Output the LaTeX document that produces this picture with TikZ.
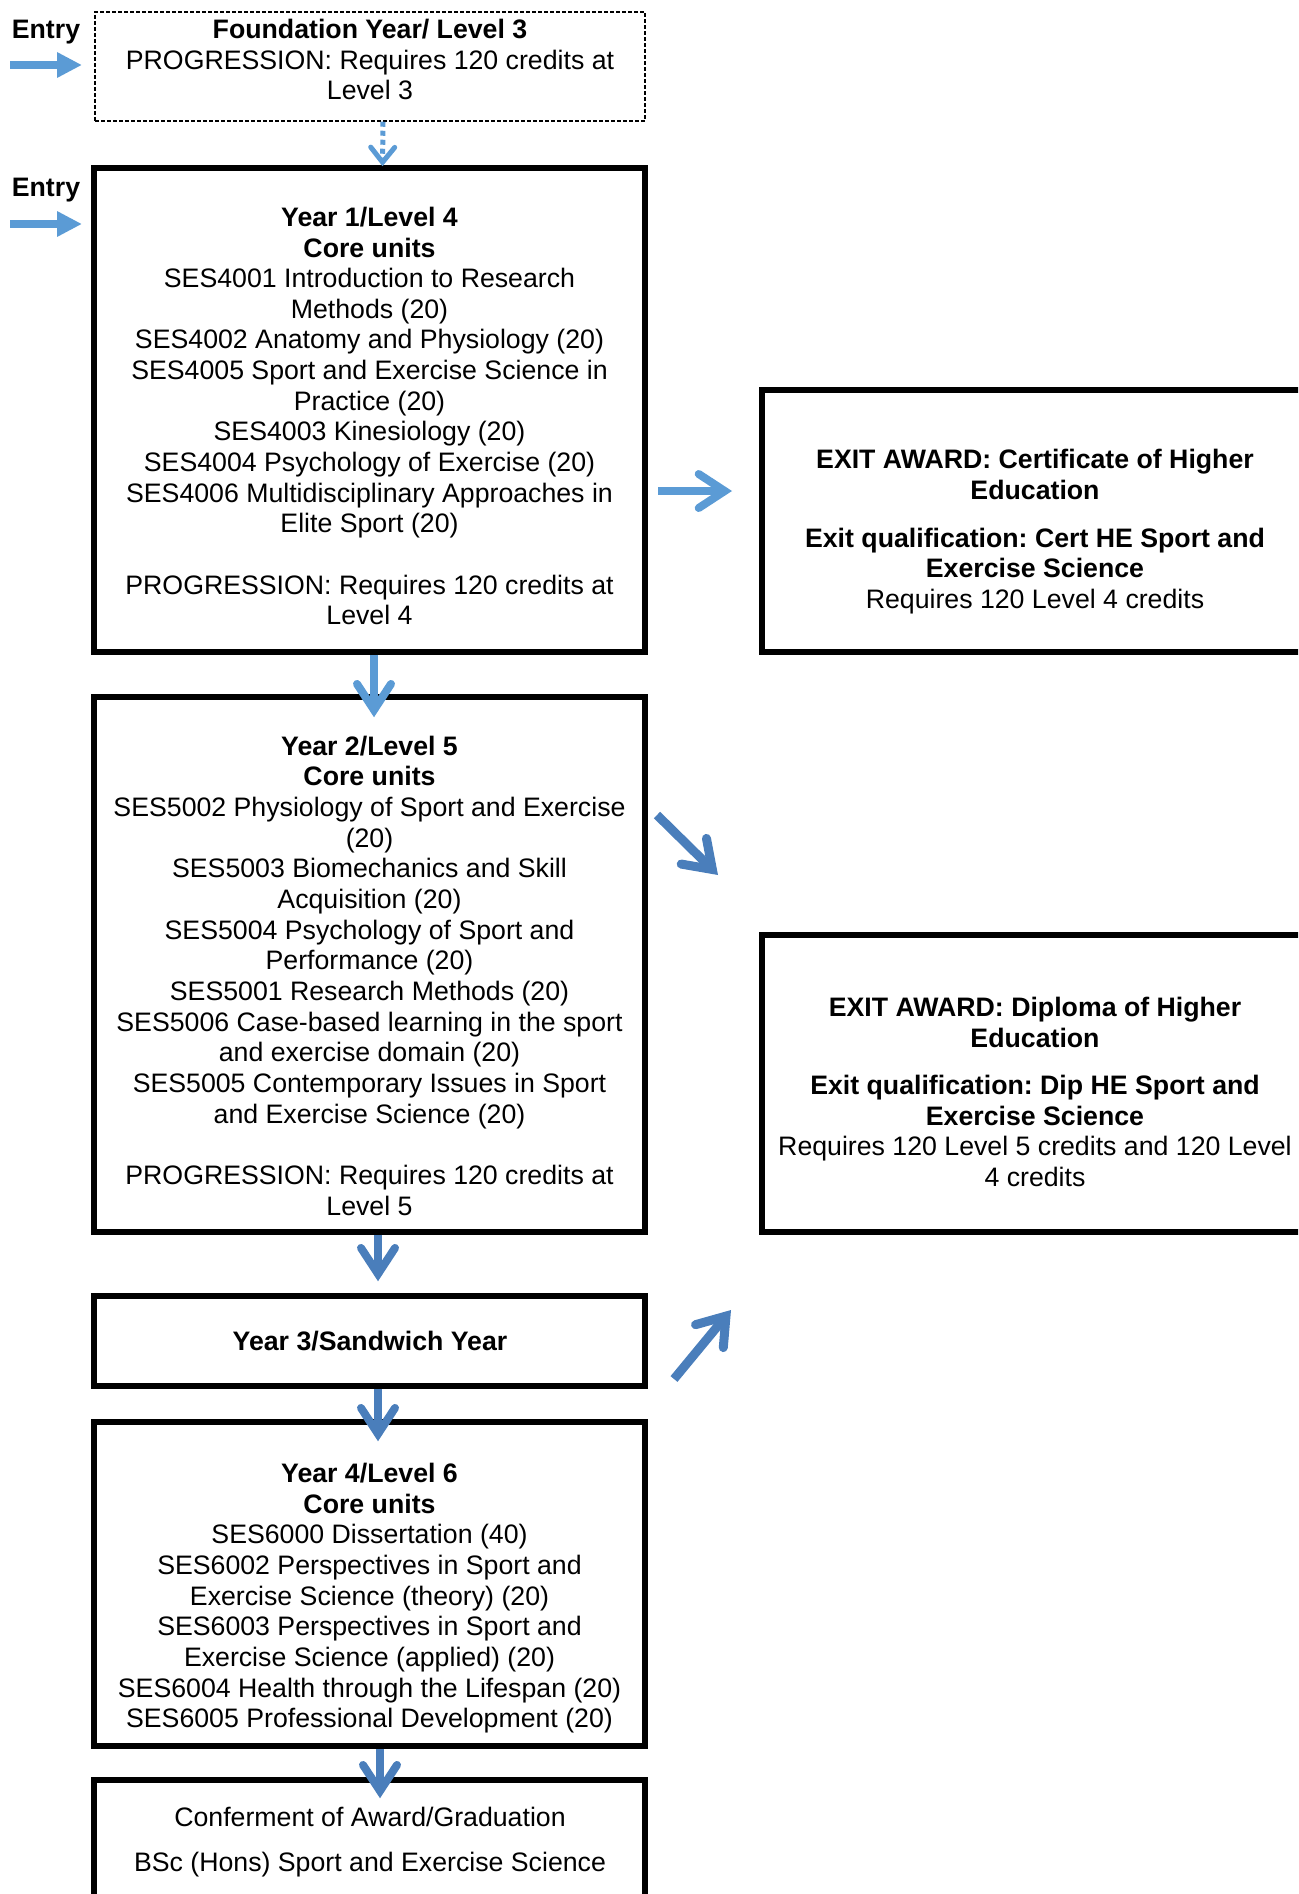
\documentclass[tikz,border=0pt]{standalone}
\usepackage{fontspec}
\setmainfont{Liberation Sans}
\usetikzlibrary{arrows.meta}
\definecolor{lblue}{HTML}{5B9BD5}
\definecolor{dblue}{HTML}{4A7EBB}
\newcommand\bigfs{\fontsize{26.7pt}{30.66pt}\selectfont\frenchspacing}
\begin{document}
\begin{tikzpicture}[x=1pt,y=-1pt,
  box/.style={draw=black, line width=5.5pt, inner sep=0pt},
  dbox/.style={draw=black, line width=1.5pt, dash pattern=on 4pt off 2pt, inner sep=0pt},
  txt/.style={align=center, font=\bigfs, inner sep=0pt},
  entryarr/.style={color=lblue, line width=8pt, -{Triangle[length=25pt,width=24pt]}},
  varr/.style={line width=8pt, -{Straight Barb[length=26pt,width=34pt,line cap=round]}},
  diagarr/.style={line width=9pt, -{Straight Barb[length=26pt,width=36pt,line cap=round]}},
  dotarr/.style={line width=5pt, dash pattern=on 5pt off 4pt, -{Straight Barb[length=15pt,width=24pt,line cap=round]}},
]
\clip (0,0) rectangle (1298,1894);
% boxes
\node[dbox, minimum width=550pt, minimum height=109pt] (fnd) at (370,66.5) {};
\node[box, minimum width=551pt, minimum height=484pt] (y1) at (369.5,410) {};
\node[box, minimum width=551pt, minimum height=535pt] (y2) at (369.5,964.5) {};
\node[box, minimum width=551pt, minimum height=90pt] (y3) at (369.5,1341) {};
\node[box, minimum width=551pt, minimum height=324pt] (y4) at (369.5,1584) {};
\node[box, minimum width=551pt, minimum height=150pt] (conf) at (369.5,1855) {};
\node[box, minimum width=546pt, minimum height=262pt] (cert) at (1035,521) {};
\node[box, minimum width=546pt, minimum height=297pt] (dip) at (1035,1083.5) {};
% texts
\node[txt] (fndt) at (370,63) {\strut\textbf{Foundation Year/ Level 3}\\PROGRESSION: Requires 120 credits at\\Level 3\strut};
\node[txt] (y1t) at (369.5,419.5) {\strut\textbf{Year 1/Level 4}\\\textbf{Core units}\\SES4001 Introduction to Research\\Methods (20)\\SES4002 Anatomy and Physiology (20)\\SES4005 Sport and Exercise Science in\\Practice (20)\\SES4003 Kinesiology (20)\\SES4004 Psychology of Exercise (20)\\SES4006 Multidisciplinary Approaches in\\Elite Sport (20)\\[30.66pt]PROGRESSION: Requires 120 credits at\\Level 4\strut};
\node[txt] (y2t) at (369.5,979) {\strut\textbf{Year 2/Level 5}\\\textbf{Core units}\\SES5002 Physiology of Sport and Exercise\\(20)\\SES5003 Biomechanics and Skill\\Acquisition (20)\\SES5004 Psychology of Sport and\\Performance (20)\\SES5001 Research Methods (20)\\SES5006 Case-based learning in the sport\\and exercise domain (20)\\SES5005 Contemporary Issues in Sport\\and Exercise Science (20)\\[30.66pt]PROGRESSION: Requires 120 credits at\\Level 5\strut};
\node[txt] (y3t) at (370,1344.5) {\strut\textbf{Year 3/Sandwich Year}\strut};
\node[txt] (y4t) at (369.5,1599) {\strut\textbf{Year 4/Level 6}\\\textbf{Core units}\\SES6000 Dissertation (40)\\SES6002 Perspectives in Sport and\\Exercise Science (theory) (20)\\SES6003 Perspectives in Sport and\\Exercise Science (applied) (20)\\SES6004 Health through the Lifespan (20)\\SES6005 Professional Development (20)\strut};
\node[txt] (conft) at (370,1843) {\strut Conferment of Award/Graduation\\[15pt]BSc (Hons) Sport and Exercise Science\strut};
\node[txt] (certt) at (1035,532.5) {\strut\textbf{EXIT AWARD: Certificate of Higher}\\\textbf{Education}\\[17pt]\textbf{Exit qualification: Cert HE Sport and}\\\textbf{Exercise Science}\\Requires 120 Level 4 credits\strut};
\node[txt] (dipt) at (1035,1095.5) {\strut\textbf{EXIT AWARD: Diploma of Higher}\\\textbf{Education}\\[16.5pt]\textbf{Exit qualification: Dip HE Sport and}\\\textbf{Exercise Science}\\Requires 120 Level 5 credits and 120 Level\\4 credits\strut};
\node[txt] (entry1) at (46,32) {\strut\textbf{Entry}\strut};
\node[txt] (entry2) at (46,190) {\strut\textbf{Entry}\strut};
% free coordinates
\coordinate (e1s) at (10,65);
\coordinate (e1e) at (82,65);
\coordinate (e2s) at (10,224);
\coordinate (e2e) at (82,224);
\coordinate (r1s) at (658,491);
\coordinate (r1e) at (732,491);
\coordinate (d1s) at (657,815);
\coordinate (d1e) at (718,875);
\coordinate (d2s) at (674,1379);
\coordinate (d2e) at (731,1310);
% arrows
\draw[entryarr] (e1s) -- (e1e);
\draw[entryarr] (e2s) -- (e2e);
\draw[dotarr, lblue] ([xshift=13pt]fnd.south) -- ([xshift=13pt,yshift=-1pt]y1.north);
\draw[varr, lblue] (r1s) -- (r1e);
\draw[varr, lblue] ([xshift=4.5pt]y1.south) -- ([xshift=4.5pt,yshift=-23pt]y2.north);
\draw[diagarr, dblue] (d1s) -- (d1e);
\draw[varr, dblue] ([xshift=8.5pt]y2.south) -- ([xshift=8.5pt,yshift=12pt]y3.north);
\draw[diagarr, dblue] (d2s) -- (d2e);
\draw[varr, dblue] ([xshift=8.5pt]y3.south) -- ([xshift=8.5pt,yshift=-22pt]y4.north);
\draw[varr, dblue] ([xshift=10.5pt]y4.south) -- ([xshift=10.5pt,yshift=-21pt]conf.north);
\end{tikzpicture}
\end{document}
